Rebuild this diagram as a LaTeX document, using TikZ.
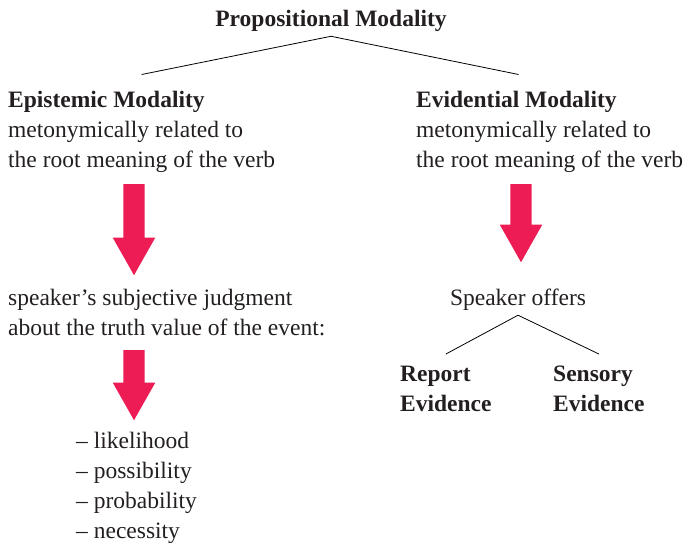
\documentclass[tikz,border=0pt]{standalone}
\usepackage{fontspec}
\setmainfont{Liberation Serif}
\usetikzlibrary{shapes.arrows, positioning}
\definecolor{arrowred}{RGB}{237,28,85}
\definecolor{inkgrey}{RGB}{35,31,32}

\begin{document}
\begin{tikzpicture}[x=1pt, y=-1pt,
    txt/.style={inner sep=0pt, align=left, text=inkgrey, font=\fontsize{23.5}{30}\selectfont},
    head/.style={txt, font=\fontsize{23.5}{30}\selectfont\bfseries},
    fat/.style={single arrow, draw=none, fill=arrowred, rotate=-90, anchor=tail, inner xsep=0pt, inner ysep=10.5pt,
        minimum width=42pt, single arrow head extend=10.5pt, single arrow tip angle=59},
    branch/.style={draw=black, line width=0.8pt}]
    \useasboundingbox (0,0) rectangle (692,542);
    % top of the tree
    \node[head, inner sep=5pt, anchor=base] (prop) at (331,26) {Propositional Modality};
    \node[txt, anchor=north west] (epi) at (8,90.5) {\textbf{Epistemic Modality}\\metonymically related to\\the root meaning of the verb};
    \node[txt, anchor=north west] (evi) at (416,90.5) {\textbf{Evidential Modality}\\metonymically related to\\the root meaning of the verb};
    \draw[branch] (prop.south) -- ([yshift=16pt]epi.north);
    \draw[branch] (prop.south) -- ([xshift=-31pt,yshift=16pt]evi.north);
    % epistemic side
    \node[fat, minimum height=91pt] (arrEpi) at (134,184) {};
    \node[txt, anchor=north west] (judg) at (8,288.6) {speaker’s subjective judgment\\about the truth value of the event:};
    \node[fat, minimum height=70pt] (arrJudg) at (134,350) {};
    \node[txt, anchor=north west] (kinds) at (76,431.6) {– likelihood\\– possibility\\– probability\\– necessity};
    % evidential side
    \node[fat, minimum height=78pt] (arrEvi) at (521,184) {};
    \node[txt, inner sep=5pt, anchor=base] (offers) at (518,305) {Speaker offers};
    \node[head, inner xsep=0pt, inner ysep=12pt, anchor=north west] (rep) at (400,354) {Report\\Evidence};
    \node[head, inner xsep=0pt, inner ysep=12pt, anchor=north west] (sens) at (553,354) {Sensory\\Evidence};
    \draw[branch] (offers.south) -- (rep.north);
    \draw[branch] (offers.south) -- (sens.north);
\end{tikzpicture}
\end{document}
